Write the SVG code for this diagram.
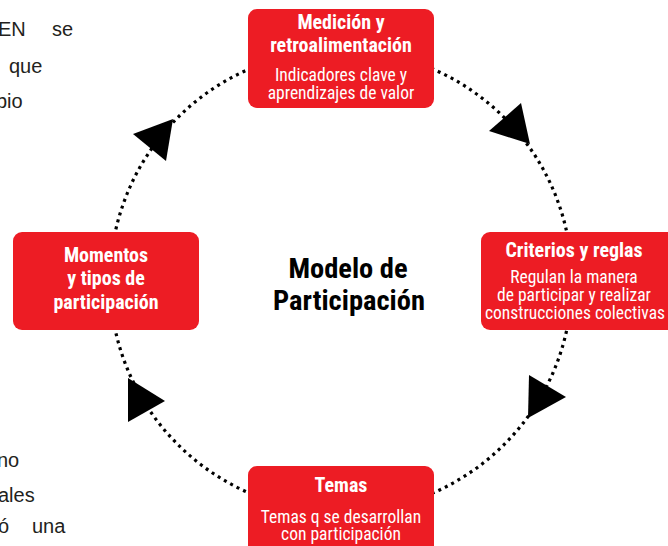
<svg xmlns="http://www.w3.org/2000/svg" width="668" height="546" viewBox="0 0 668 546">
<style>
.box{fill:#ED1C24;}
.t{font-family:"Liberation Sans Narrow","Roboto Condensed","Liberation Sans",sans-serif;fill:#fff;text-anchor:middle;}
.b{font-weight:bold;font-size:20px;}
.r{font-size:17.5px;}
.bg{font-family:"Liberation Sans","Helvetica",sans-serif;font-size:20px;fill:#231f20;}
.ctr{font-family:"Liberation Sans Narrow","Roboto Condensed","Liberation Sans",sans-serif;font-weight:bold;font-size:28.5px;fill:#000;text-anchor:middle;}
.dot{fill:none;stroke:#000;stroke-width:3.2;stroke-dasharray:3 4.2;}
</style>
<rect width="668" height="546" fill="#fff"/>
<g id="background-text">
<text class="bg" x="-2" y="36">EN</text>
<text class="bg" x="52" y="36">se</text>
<text class="bg" x="9" y="73">que</text>
<text class="bg" x="-4" y="108">bio</text>
<text class="bg" x="-3" y="467">no</text>
<text class="bg" x="-2" y="502">ales</text>
<text class="bg" x="-2" y="533">ó</text>
<text class="bg" x="32" y="533">una</text>
</g>
<g id="connectors">
<circle class="dot" cx="341" cy="281" r="231"/>
<polygon points="133,134 173,119 166,161"/>
<polygon points="521,103 489,131 530,144"/>
<polygon points="128,378 165,401 128,422"/>
<polygon points="529,375 566,397 528,418"/>
</g>
<g id="center-label">
<text class="ctr" x="348" y="278">Modelo de</text>
<text class="ctr" x="349" y="310">Participación</text>
</g>
<g id="node-medicion">
<rect class="box" x="248" y="9" width="186" height="99" rx="9"/>
<text class="t b" x="341" y="29">Medición y</text>
<text class="t b" x="341" y="52">retroalimentación</text>
<text class="t r" x="341" y="81">Indicadores clave y</text>
<text class="t r" x="341" y="99">aprendizajes de valor</text>
</g>
<g id="node-criterios">
<rect class="box" x="481" y="232" width="195" height="98" rx="9"/>
<text class="t b" x="574" y="257">Criterios y reglas</text>
<text class="t r" x="574" y="283">Regulan la manera</text>
<text class="t r" x="574" y="301">de participar y realizar</text>
<text class="t r" x="575" y="319">construcciones colectivas</text>
</g>
<g id="node-temas">
<rect class="box" x="248" y="466" width="186" height="95" rx="9"/>
<text class="t b" x="341" y="492">Temas</text>
<text class="t r" x="341" y="523">Temas q se desarrollan</text>
<text class="t r" x="341" y="540">con participación</text>
</g>
<g id="node-momentos">
<rect class="box" x="13" y="232" width="186" height="98" rx="9"/>
<text class="t b" x="106" y="262">Momentos</text>
<text class="t b" x="106" y="285">y tipos de</text>
<text class="t b" x="106" y="309">participación</text>
</g>
</svg>
